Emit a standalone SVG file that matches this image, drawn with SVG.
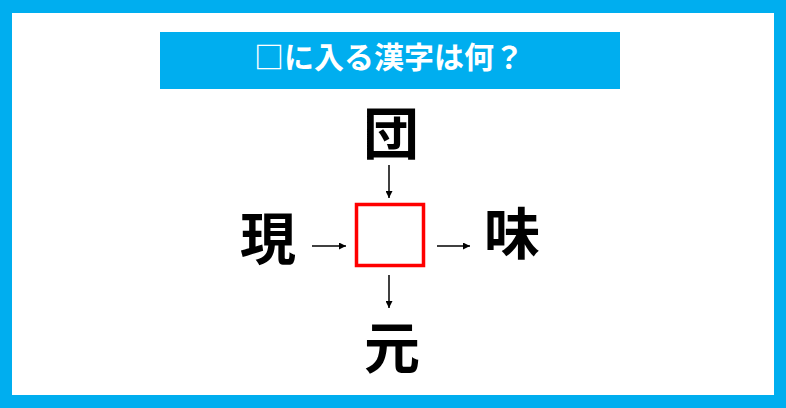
<svg xmlns="http://www.w3.org/2000/svg" width="786" height="408" viewBox="0 0 786 408">
<style>
.k{font-family:"Noto Sans CJK JP","Noto Sans CJK SC",sans-serif;font-weight:bold;font-size:56px;fill:#000;text-anchor:middle}
.t{font-family:"Noto Sans CJK JP","Noto Sans CJK SC",sans-serif;font-weight:bold;font-size:30px;fill:#fff;text-anchor:middle}
.c{stroke:#000;stroke-width:1.5;fill:none;marker-end:url(#ah)}
</style>
<defs>
<marker id="ah" viewBox="0 0 10 10" refX="10" refY="5" markerWidth="8" markerHeight="7" markerUnits="userSpaceOnUse" orient="auto">
<path d="M0,0 L10,5 L0,10 z" fill="#000"/>
</marker>
</defs>
<rect x="0" y="0" width="786" height="408" fill="#00aeef"/>
<rect x="12" y="13" width="762" height="382" fill="#fff"/>
<g id="title">
<rect x="160" y="32" width="460" height="57" fill="#00aeef"/>
<text class="t" x="389" y="68">□に入る漢字は何？</text>
</g>
<g id="top"><text class="k" x="391" y="154">団</text></g>
<g id="left"><text class="k" x="268" y="259">現</text></g>
<g id="right"><text class="k" x="512" y="254">味</text></g>
<g id="bottom"><text class="k" x="392" y="368">元</text></g>
<g id="center"><rect x="356.5" y="204.5" width="67" height="61" fill="#fff" stroke="#ff0000" stroke-width="3.5"/></g>
<g id="connectors">
<line class="c" x1="389" y1="165" x2="389" y2="198"/>
<line class="c" x1="312" y1="246" x2="346" y2="246"/>
<line class="c" x1="437" y1="246" x2="470" y2="246"/>
<line class="c" x1="389" y1="275" x2="389" y2="308"/>
</g>
</svg>
